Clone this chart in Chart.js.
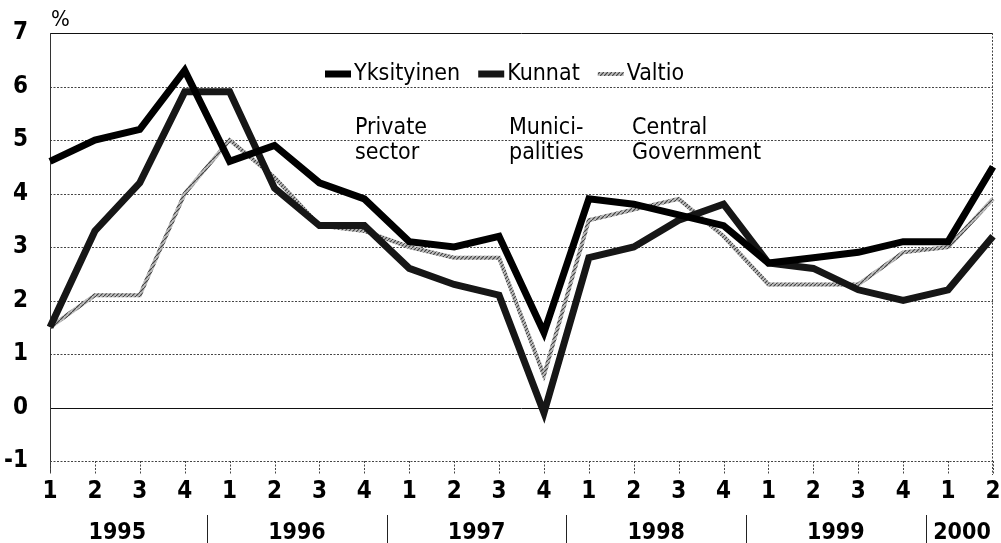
<!DOCTYPE html>
<html>
<head>
<meta charset="utf-8">
<script src="https://cdn.jsdelivr.net/npm/chart.js@4/dist/chart.umd.min.js"></script>
<style>
  html, body { margin: 0; padding: 0; background: #fff; }
  #wrap { width: 1001px; height: 543px; }
</style>
</head>
<body>
<div id="wrap"><canvas id="chart" width="1001" height="543"></canvas></div>
<script>
// Wage growth by sector, % change, quarterly 1995Q1 - 2000Q2
const quarterLabels = ['1','2','3','4','1','2','3','4','1','2','3','4','1','2','3','4','1','2','3','4','1','2'];
const years = ['1995', '1996', '1997', '1998', '1999', '2000'];
const quartersPerYear = [4, 4, 4, 4, 4, 2];

const yksityinen = [4.6, 5.0, 5.2, 6.3, 4.6, 4.9, 4.2, 3.9, 3.1, 3.0, 3.2, 1.4, 3.9, 3.8, 3.6, 3.4, 2.7, 2.8, 2.9, 3.1, 3.1, 4.5];
const kunnat     = [1.5, 3.3, 4.2, 5.9, 5.9, 4.1, 3.4, 3.4, 2.6, 2.3, 2.1, -0.1, 2.8, 3.0, 3.5, 3.8, 2.7, 2.6, 2.2, 2.0, 2.2, 3.2];
const valtio     = [1.5, 2.1, 2.1, 4.0, 5.0, 4.3, 3.4, 3.3, 3.0, 2.8, 2.8, 0.6, 3.5, 3.7, 3.9, 3.2, 2.3, 2.3, 2.3, 2.9, 3.0, 3.9];

const notes = [['Private', 'sector'], ['Munici-', 'palities'], ['Central', 'Government']];

const FONT = '"Liberation Sans Narrow", "Arial Narrow", "DejaVu Sans Condensed", sans-serif';

// hatched grey stroke for Valtio
function hatchPattern() {
  const p = document.createElement('canvas');
  p.width = 4; p.height = 4;
  const g = p.getContext('2d');
  g.fillStyle = '#bdbdbd';
  g.fillRect(0, 0, 4, 4);
  g.strokeStyle = '#444';
  g.lineWidth = 1.2;
  g.beginPath();
  g.moveTo(0, 4); g.lineTo(4, 0);
  g.stroke();
  return document.getElementById('chart').getContext('2d').createPattern(p, 'repeat');
}

const decorPlugin = {
  id: 'decor',
  beforeDatasetsDraw(chart) {
    const { ctx, chartArea: a, scales: { x, y } } = chart;
    ctx.save();
    // horizontal grid
    for (let v = -1; v <= 7; v++) {
      const py = Math.round(y.getPixelForValue(v)) + 0.5;
      ctx.beginPath();
      if (v === 0 || v === 7) {
        ctx.setLineDash([]);
        ctx.strokeStyle = '#111';
      } else {
        ctx.setLineDash([2, 1.5]);
        ctx.strokeStyle = '#444';
      }
      ctx.lineWidth = 1;
      ctx.moveTo(a.left, py);
      ctx.lineTo(a.right, py);
      ctx.stroke();
    }
    // left axis
    ctx.setLineDash([]);
    ctx.strokeStyle = '#333';
    ctx.beginPath();
    ctx.moveTo(a.left + 0.5, a.top);
    ctx.lineTo(a.left + 0.5, a.bottom + 12);
    ctx.stroke();
    // right border, dotted
    ctx.setLineDash([2, 1.5]);
    ctx.strokeStyle = '#444';
    ctx.beginPath();
    ctx.moveTo(a.right - 0.5, a.top);
    ctx.lineTo(a.right - 0.5, a.bottom + 14);
    ctx.stroke();
    // quarter tick marks
    quarterLabels.forEach((_, i) => {
      const px = Math.round(x.getPixelForValue(i)) + 0.5;
      ctx.beginPath();
      ctx.moveTo(px, a.bottom);
      ctx.lineTo(px, a.bottom + 14);
      ctx.stroke();
    });
    ctx.restore();
  },
  afterDraw(chart) {
    const { ctx, chartArea: a, scales: { x } } = chart;
    ctx.save();
    // year labels and separators
    ctx.font = 'bold 23px ' + FONT;
    ctx.fillStyle = '#000';
    ctx.textAlign = 'center';
    ctx.textBaseline = 'middle';
    let idx = 0;
    years.forEach((yr, k) => {
      const n = quartersPerYear[k];
      const cx = (x.getPixelForValue(idx) + x.getPixelForValue(idx + n - 1)) / 2;
      ctx.fillText(yr, Math.min(cx, 962), 533);
      if (k > 0) {
        const sx = Math.round((x.getPixelForValue(idx - 1) + x.getPixelForValue(idx)) / 2) + 0.5;
        ctx.strokeStyle = '#222';
        ctx.lineWidth = 1;
        ctx.beginPath();
        ctx.moveTo(sx, 515);
        ctx.lineTo(sx, 543);
        ctx.stroke();
      }
      idx += n;
    });

    // percent sign
    ctx.font = '22px ' + FONT;
    ctx.textAlign = 'left';
    ctx.fillText('%', a.left + 1, 20);

    // legend
    ctx.font = '23px ' + FONT;
    ctx.textBaseline = 'middle';
    let lx = 325;
    const ly = 74;
    chart.data.datasets.forEach(ds => {
      ctx.strokeStyle = ds.borderColor;
      ctx.lineWidth = ds.borderWidth;
      ctx.beginPath();
      ctx.moveTo(lx, ly);
      ctx.lineTo(lx + 26, ly);
      ctx.stroke();
      ctx.fillStyle = '#000';
      ctx.fillText(ds.label, lx + 29, ly);
      lx += 29 + ctx.measureText(ds.label).width + 18;
    });

    // sector notes
    const noteX = [355, 509, 632];
    ctx.textBaseline = 'alphabetic';
    notes.forEach((lines, i) => {
      lines.forEach((t, j) => ctx.fillText(t, noteX[i], 134 + j * 25));
    });
    ctx.restore();
  }
};

new Chart(document.getElementById('chart'), {
  type: 'line',
  data: {
    labels: quarterLabels,
    datasets: [
      { label: 'Yksityinen', data: yksityinen, borderColor: '#000', borderWidth: 7 },
      { label: 'Kunnat', data: kunnat, borderColor: '#161616', borderWidth: 7 },
      { label: 'Valtio', data: valtio, borderColor: hatchPattern(), borderWidth: 4 },
    ].map(d => Object.assign(d, { pointRadius: 0, tension: 0, fill: false, borderJoinStyle: 'miter', borderCapStyle: 'butt' })),
  },
  options: {
    responsive: false,
    animation: false,
    devicePixelRatio: 1,
    layout: { padding: { top: 33, right: 8, left: 0, bottom: 0 } },
    plugins: { legend: { display: false }, tooltip: { enabled: false } },
    scales: {
      x: {
        offset: false,
        grid: { display: false, drawTicks: false },
        border: { display: false },
        ticks: { color: '#000', font: { family: FONT, size: 24, weight: 'bold' }, padding: 16, maxRotation: 0, autoSkip: false },
        afterFit: s => { s.height = 82; s.paddingLeft = 0; s.paddingRight = 0; },
      },
      y: {
        min: -1,
        max: 7,
        grid: { display: false, drawTicks: false },
        border: { display: false },
        ticks: { stepSize: 1, color: '#000', font: { family: FONT, size: 24, weight: 'bold' }, padding: 22 },
        afterFit: s => { s.width = 50; s.paddingTop = 0; s.paddingBottom = 0; },
      },
    },
  },
  plugins: [decorPlugin],
});
</script>
</body>
</html>
